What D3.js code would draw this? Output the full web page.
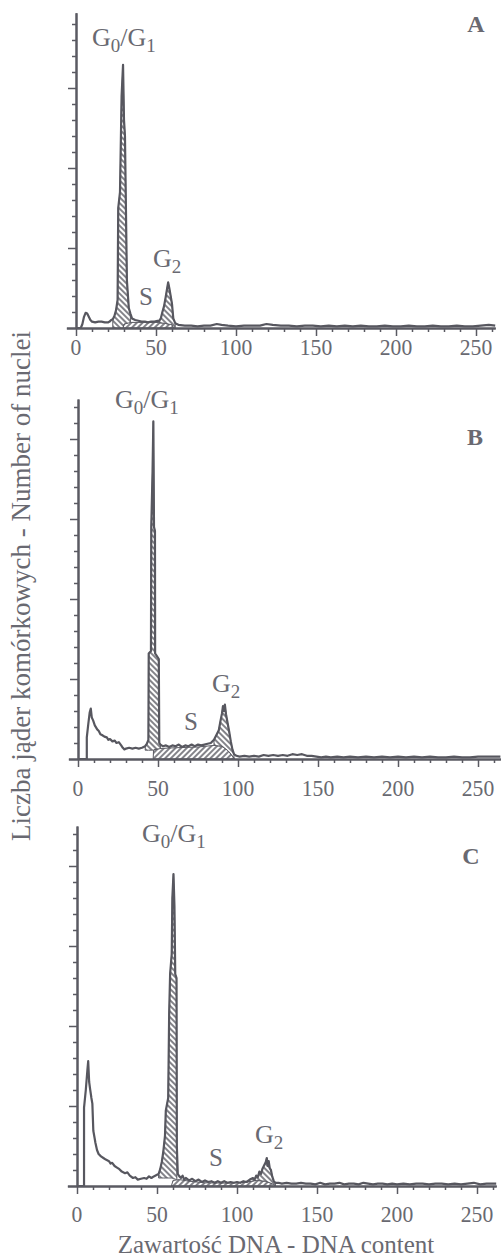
<!DOCTYPE html>
<html>
<head>
<meta charset="UTF-8">
<title>DNA content histograms</title>
<script src="https://d3js.org/d3.v7.min.js"></script>
<style>
body { margin: 0; background: #fff; }
svg text { font-family: "Liberation Serif", "Times New Roman", serif; fill: #696971; }
.curve { fill: none; stroke: #57575f; stroke-width: 2.2; stroke-linejoin: round; }
.region { stroke: #5a5a62; stroke-width: 1; }
.axis path, .axis line { stroke: #5a5a62; }
.axis path { stroke-width: 2; }
.axis line { stroke-width: 1.5; }
</style>
</head>
<body>
<svg width="504" height="1259"></svg>
<script>
// tick labels
var xTicks = [0, 50, 100, 150, 200, 250]
var xTickLabels = ["0", "50", "100", "150", "200", "250"]
var yTicks = [1, 2, 3, 4]

// panel A: [DNA channel, number of nuclei]
var aHist = [[0,0],[3,0],[4,0.05],[5,0.14],[6,0.19],[7,0.18],[8,0.14],[9,0.1],[10,0.08],[12,0.07],[14,0.08],[16,0.08],[18,0.07],[20,0.07],[21,0.08],[22,0.1],[23,0.11],[24,0.15],[25,0.22],[26,0.35],[26.4,1.5],[27.5,1.7],[28.5,2.9],[29.4,3.29],[30,2.6],[30.6,2.4],[31.2,1.5],[31.8,0.6],[33,0.25],[34,0.18],[35,0.12],[37,0.1],[39,0.09],[41,0.08],[43,0.08],[45,0.07],[47,0.08],[49,0.08],[51,0.09],[52,0.09],[53,0.12],[54,0.2],[55,0.27],[56,0.38],[57,0.5],[57.6,0.57],[58.3,0.5],[59,0.42],[60,0.3],[60.8,0.12],[62,0.06],[64,0.04],[68,0.03],[72,0.03],[76,0.02],[80,0.03],[84,0.03],[88,0.05],[91,0.04],[95,0.03],[100,0.02],[105,0.03],[110,0.03],[115,0.03],[119,0.05],[123,0.04],[128,0.03],[133,0.03],[138,0.02],[143,0.03],[148,0.03],[153,0.02],[158,0.03],[163,0.02],[168,0.03],[173,0.02],[178,0.03],[183,0.02],[188,0.02],[193,0.03],[198,0.02],[203,0.02],[208,0.03],[213,0.02],[218,0.02],[223,0.03],[228,0.02],[233,0.02],[238,0.03],[243,0.02],[248,0.02],[253,0.03],[258,0.04],[262,0.03]]
var aG1 = [23, 34.5]
var aG1Floor = [[23,0],[29.5,0],[30,0.05],[34.5,0.07]]
var aSTop = [[29.5,0],[30,0.05],[33,0.07],[40,0.07],[50,0.07],[55,0.06],[60,0.04],[61,0]]
var aG2 = [52, 62]

// panel B
var bHist = [[0,0],[5.5,0],[5.5,0.27],[6.5,0.45],[7.3,0.58],[8,0.63],[8.6,0.52],[9.5,0.48],[10.5,0.42],[12,0.37],[13,0.35],[14,0.31],[15,0.3],[16.5,0.28],[18,0.27],[19,0.24],[20,0.25],[21.5,0.22],[23,0.23],[24,0.2],[25.5,0.21],[27,0.17],[28,0.14],[29,0.12],[30,0.13],[32,0.14],[34,0.13],[36,0.14],[38,0.13],[40,0.14],[42,0.16],[43,0.19],[44,0.24],[44.2,1.32],[45.6,1.35],[45.8,2.9],[46.6,3.6],[47.1,4.22],[47.5,2.9],[48.1,2.85],[48.2,1.32],[50.5,1.25],[50.8,0.2],[51.5,0.18],[53,0.16],[55,0.17],[57,0.15],[59,0.17],[61,0.16],[63,0.18],[65,0.15],[67,0.17],[69,0.16],[71,0.18],[73,0.16],[75,0.18],[77,0.17],[79,0.18],[81,0.19],[83,0.2],[85,0.24],[86.5,0.3],[88,0.36],[89,0.47],[90,0.57],[90.6,0.66],[91.2,0.6],[91.8,0.68],[92.5,0.56],[93.5,0.45],[94.5,0.34],[95.5,0.22],[96.5,0.12],[97.5,0.06],[99,0.04],[101,0.03],[104,0.04],[107,0.03],[110,0.04],[113,0.03],[116,0.05],[119,0.04],[122,0.05],[125,0.04],[128,0.05],[131,0.04],[134,0.06],[137,0.05],[140,0.06],[143,0.04],[146,0.04],[149,0.03],[152,0.02],[155,0.03],[158,0.02],[162,0.03],[166,0.02],[170,0.03],[175,0.02],[180,0.03],[185,0.02],[190,0.03],[195,0.02],[200,0.03],[205,0.02],[210,0.03],[215,0.02],[220,0.03],[225,0.02],[230,0.02],[235,0.03],[240,0.02],[245,0.02],[250,0.03],[255,0.03],[260,0.03],[264,0.03]]
var bG1 = [41, 51.5]
var bG1Floor = [[41,0.11],[47,0.11],[48,0.12],[51.5,0.13]]
var bSTop = [[47,0],[47.2,0.11],[50,0.13],[60,0.14],[75,0.15],[85,0.17],[90,0.16],[94,0.1],[98,0]]
var bG2 = [84, 98]

// panel C
var cHist = [[0,0],[4.4,0],[4.4,0.98],[5.5,1.2],[6.5,1.45],[7,1.56],[7.6,1.3],[8.2,1.21],[9,1.1],[9.6,1.03],[10.2,0.69],[11,0.6],[11.5,0.54],[12.5,0.45],[13.5,0.4],[15,0.37],[16.5,0.35],[18,0.33],[20,0.31],[21,0.28],[22,0.29],[23.5,0.25],[25,0.23],[26.5,0.21],[28,0.18],[30,0.16],[31.5,0.17],[33,0.13],[35,0.1],[36.5,0.11],[38,0.08],[40,0.09],[42,0.1],[43.5,0.09],[45,0.12],[46.5,0.1],[48,0.12],[50,0.14],[51,0.15],[52,0.21],[53,0.3],[54,0.44],[55,0.63],[55.5,0.94],[57,1.1],[57.6,2.15],[58.2,2.65],[59.2,2.9],[59.6,3.6],[60.3,3.9],[60.9,3.5],[61.4,2.65],[62.2,2.6],[62.4,0.5],[63,0.15],[64,0.12],[65,0.1],[66,0.13],[67,0.08],[68,0.1],[70,0.07],[72,0.09],[74,0.06],[76,0.08],[78,0.05],[80,0.07],[82,0.05],[84,0.06],[86,0.04],[88,0.06],[90,0.04],[92,0.06],[94,0.04],[96,0.05],[98,0.04],[100,0.05],[102,0.04],[104,0.06],[106,0.05],[108,0.08],[110,0.1],[111,0.08],[112,0.13],[113,0.11],[114,0.18],[115,0.15],[116,0.22],[117,0.26],[118,0.3],[118.6,0.35],[119.2,0.25],[119.8,0.31],[120.5,0.22],[121.2,0.2],[122,0.12],[123,0.06],[124,0.04],[126,0.04],[128,0.03],[131,0.04],[134,0.03],[137,0.03],[140,0.04],[143,0.03],[146,0.03],[149,0.02],[152,0.04],[155,0.02],[158,0.03],[161,0.03],[164,0.04],[167,0.02],[170,0.03],[173,0.03],[176,0.02],[179,0.04],[182,0.03],[185,0.02],[188,0.03],[191,0.03],[194,0.02],[197,0.03],[200,0.02],[204,0.03],[208,0.02],[212,0.03],[216,0.03],[220,0.02],[224,0.03],[228,0.03],[232,0.02],[236,0.03],[240,0.02],[244,0.03],[248,0.04],[252,0.02],[256,0.03],[262,0.03]]
var cG1 = [51, 62.4]
var cG1Floor = [[51,0.1],[59,0.1],[62.4,0.08]]
var cSTop = [[59,0],[60,0.07],[64,0.08],[70,0.06],[80,0.04],[95,0.035],[105,0.045],[112,0.07],[118,0.06],[123,0.02],[124,0]]
var cG2 = [108, 124]

var panels = [
  { letter: "A", hist: aHist, g1: aG1, g1Floor: aG1Floor, sTop: aSTop, g2: aG2,
    x0: 76, base: 328, yMax: 3.94, xHi: 262, labelDy: 27,
    g01: [92, 46], s: [146, 305], g2Label: [153, 267], letterPos: [476, 32] },
  { letter: "B", hist: bHist, g1: bG1, g1Floor: bG1Floor, sTop: bSTop, g2: bG2,
    x0: 78, base: 759, yMax: 4.5, xHi: 264, labelDy: 37,
    g01: [115, 408], s: [191, 730], g2Label: [212, 692], letterPos: [475, 445] },
  { letter: "C", hist: cHist, g1: cG1, g1Floor: cG1Floor, sTop: cSTop, g2: cG2,
    x0: 77, base: 1186, yMax: 4.5, xHi: 262, labelDy: 36,
    g01: [142, 842], s: [216, 1166], g2Label: [255, 1143], letterPos: [471, 864] }
]

var pxPerUnit = 1.6, pxPerCount = 80, xLo = -6
var ink = "#5a5a62"

var svg = d3.select("svg")

// hatch patterns: "\\\\" for G0/G1 and G2, "////" for S
var defs = svg.append("defs")
function hatch(id, angle) {
  var p = defs.append("pattern")
    .attr("id", id)
    .attr("patternUnits", "userSpaceOnUse")
    .attr("width", 4)
    .attr("height", 4)
    .attr("patternTransform", "rotate(" + angle + ")")
  p.append("rect").attr("width", 4).attr("height", 4).attr("fill", "#fff")
  p.append("line")
    .attr("x1", 1).attr("y1", 0).attr("x2", 1).attr("y2", 4)
    .attr("stroke", ink).attr("stroke-width", 1.5)
}
hatch("hatchBack", -45)
hatch("hatchFwd", 45)

panels.forEach(function(p) {
  var g = svg.append("g")

  var x = d3.scaleLinear()
    .domain([xLo, p.xHi])
    .range([p.x0 + xLo * pxPerUnit, p.x0 + p.xHi * pxPerUnit])
  var y = d3.scaleLinear()
    .domain([0, p.yMax])
    .range([p.base, p.base - p.yMax * pxPerCount])

  function levels(pts) {
    return d3.scaleLinear()
      .domain(pts.map(function(d) { return d[0] }))
      .range(pts.map(function(d) { return d[1] }))
      .clamp(true)
  }
  var g1Floor = levels(p.g1Floor)
  var sLevel = levels(p.sTop)

  function region(range, floor) {
    var pts = p.hist.filter(function(d) { return d[0] >= range[0] && d[0] <= range[1] })
    return d3.area()
      .x(function(d) { return x(d[0]) })
      .y0(function(d) { return y(floor(d[0])) })
      .y1(function(d) { return y(d[1]) })(pts)
  }

  // S phase band
  g.append("path")
    .attr("class", "region")
    .attr("fill", "url(#hatchFwd)")
    .attr("d", d3.area()
      .x(function(d) { return x(d[0]) })
      .y0(y(0))
      .y1(function(d) { return y(d[1]) })(p.sTop))

  g.append("path")
    .attr("class", "region")
    .attr("fill", "url(#hatchBack)")
    .attr("d", region(p.g1, g1Floor))

  g.append("path")
    .attr("class", "region")
    .attr("fill", "url(#hatchBack)")
    .attr("d", region(p.g2, sLevel))

  g.append("path")
    .attr("class", "curve")
    .attr("d", d3.line()
      .x(function(d) { return x(d[0]) })
      .y(function(d) { return y(d[1]) })(p.hist))

  // axes
  var minorX = d3.range(10, p.xHi, 10).filter(function(v) { return v % 50 })
  g.append("g")
    .attr("class", "axis")
    .attr("transform", "translate(0," + p.base + ")")
    .call(d3.axisBottom(x).tickValues(minorX).tickSize(4).tickSizeOuter(0).tickFormat(""))
  g.append("g")
    .attr("class", "axis")
    .attr("transform", "translate(0," + p.base + ")")
    .call(d3.axisBottom(x).tickValues(xTicks).tickSize(8).tickSizeOuter(0).tickFormat(""))

  var minorY = d3.range(0.2, p.yMax, 0.2).filter(function(v) { return Math.abs(v - Math.round(v)) > 0.05 })
  g.append("g")
    .attr("class", "axis")
    .attr("transform", "translate(" + x(0) + ",0)")
    .call(d3.axisLeft(y).tickValues(minorY).tickSize(4).tickSizeOuter(0).tickFormat(""))
  g.append("g")
    .attr("class", "axis")
    .attr("transform", "translate(" + x(0) + ",0)")
    .call(d3.axisLeft(y).tickValues(yTicks.filter(function(v) { return v < p.yMax })).tickSize(8).tickSizeOuter(0).tickFormat(""))

  g.selectAll(".xlab")
    .data(xTicks)
    .join("text")
    .attr("class", "xlab")
    .attr("transform", function(d) { return "translate(" + x(d) + "," + (p.base + p.labelDy) + ") scale(0.9,1)" })
    .attr("text-anchor", "middle")
    .style("font-size", "24px")
    .text(function(d, i) { return xTickLabels[i] })

  // phase labels
  var t = g.append("text")
    .attr("x", p.g01[0]).attr("y", p.g01[1])
    .style("font-size", "26px")
  t.append("tspan").text("G")
  t.append("tspan").attr("dy", 6).style("font-size", "19px").text("0")
  t.append("tspan").attr("dy", -6).text("/G")
  t.append("tspan").attr("dy", 6).style("font-size", "19px").text("1")

  var t2 = g.append("text")
    .attr("x", p.g2Label[0]).attr("y", p.g2Label[1])
    .style("font-size", "26px")
  t2.append("tspan").text("G")
  t2.append("tspan").attr("dy", 6).style("font-size", "19px").text("2")

  g.append("text")
    .attr("x", p.s[0]).attr("y", p.s[1])
    .attr("text-anchor", "middle")
    .style("font-size", "25px")
    .text("S")

  g.append("text")
    .attr("x", p.letterPos[0]).attr("y", p.letterPos[1])
    .attr("text-anchor", "middle")
    .style("font-size", "24px")
    .style("font-weight", "bold")
    .text(p.letter)
})

svg.append("text")
  .attr("transform", "translate(30,586) rotate(-90)")
  .attr("text-anchor", "middle")
  .style("font-size", "27px")
  .text("Liczba jąder komórkowych - Number of nuclei")

svg.append("text")
  .attr("x", 276)
  .attr("y", 1253)
  .attr("text-anchor", "middle")
  .style("font-size", "25px")
  .text("Zawartość DNA - DNA content")
</script>
</body>
</html>
